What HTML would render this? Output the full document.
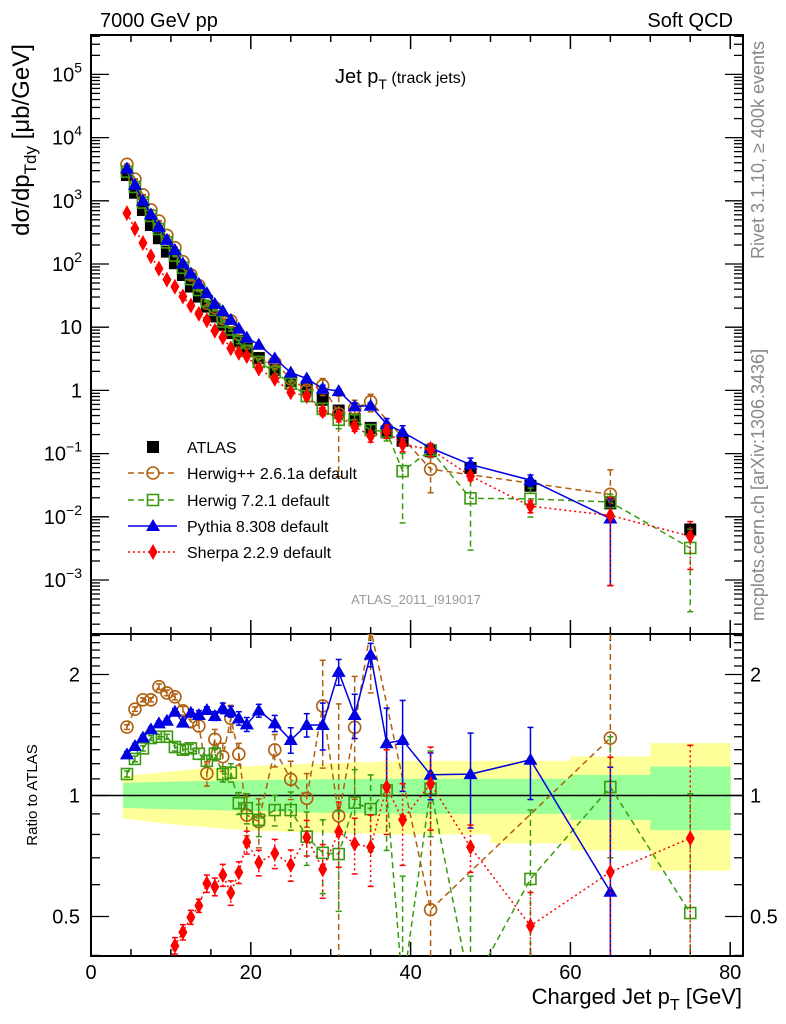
<!DOCTYPE html>
<html><head><meta charset="utf-8"><style>
html,body{margin:0;padding:0;background:#fff;overflow:hidden;width:786px;height:1024px;}
svg{display:block;font-family:"Liberation Sans",Arial,sans-serif;}
</style></head><body>
<svg id="chart" width="786" height="1024" viewBox="0 0 786 1024" xmlns="http://www.w3.org/2000/svg">
<defs>
<clipPath id="clipMain"><rect x="91" y="35" width="652" height="599"/></clipPath>
<clipPath id="clipRatio"><rect x="91" y="634" width="652" height="322"/></clipPath>
</defs>
<g id="bands" clip-path="url(#clipRatio)"></g>
<g id="axes"></g>
<g id="marksMain" clip-path="url(#clipMain)"></g>
<g id="marksRatio" clip-path="url(#clipRatio)"></g>
<g id="labels">
<text x="100" y="27" font-size="20">7000 GeV pp</text>
<text x="733" y="27" font-size="20" text-anchor="end">Soft QCD</text>
<text x="335" y="83" font-size="20">Jet p<tspan font-size="14" dy="6">T</tspan><tspan font-size="16" dy="-6"> (track jets)</tspan></text>
<text x="416" y="604" font-size="13" fill="#999" text-anchor="middle">ATLAS_2011_I919017</text>
<text transform="translate(29,140) rotate(-90)" font-size="24" text-anchor="middle">dσ/dp<tspan font-size="17" dy="7">Tdy</tspan><tspan dy="-7"> [μb/GeV]</tspan></text>
<text transform="translate(37,795) rotate(-90)" font-size="15" text-anchor="middle">Ratio to ATLAS</text>
<text transform="translate(764,150) rotate(-90)" font-size="18" fill="#888" text-anchor="middle">Rivet 3.1.10, ≥ 400k events</text>
<text transform="translate(764,485) rotate(-90)" font-size="18" fill="#888" text-anchor="middle">mcplots.cern.ch [arXiv:1306.3436]</text>
<text x="742" y="1004" font-size="22" text-anchor="end">Charged Jet p<tspan font-size="16" dy="6">T</tspan><tspan dy="-6"> [GeV]</tspan></text>
</g>
<g id="legend"></g>
</svg>
<script>
const xVals=[4.5,5.5,6.5,7.5,8.5,9.5,10.5,11.5,12.5,13.5,14.5,15.5,16.5,17.5,18.5,19.5,21,23,25,27,29,31,33,35,37,39,42.5,47.5,55,65,75];
const binEdges=[4,5,6,7,8,9,10,11,12,13,14,15,16,17,18,19,20,22,24,26,28,30,32,34,36,38,40,45,50,60,70,80];
const atlasVals=[2557,1343,716,415,256,157,103,67,44,30.5,21.2,14.8,10.9,8.07,6.1,4.56,3.25,2.12,1.39,1.03,0.71,0.48,0.353,0.255,0.217,0.160,0.109,0.0594,0.031,0.0163,0.0063];
const bandGreenUp=[1.075,1.077,1.078,1.08,1.08,1.082,1.083,1.084,1.085,1.086,1.087,1.088,1.089,1.09,1.09,1.091,1.092,1.094,1.095,1.096,1.097,1.098,1.099,1.1,1.1,1.1,1.1,1.1,1.1,1.125,1.18];
const bandGreenLo=[0.93,0.93,0.928,0.927,0.926,0.925,0.924,0.923,0.922,0.921,0.92,0.919,0.918,0.917,0.916,0.915,0.914,0.912,0.91,0.908,0.906,0.905,0.904,0.903,0.902,0.9,0.9,0.9,0.9,0.87,0.82];
const bandYellowUp=[1.12,1.125,1.13,1.135,1.14,1.145,1.15,1.155,1.16,1.165,1.17,1.172,1.175,1.178,1.18,1.183,1.186,1.19,1.195,1.2,1.2,1.205,1.21,1.21,1.215,1.22,1.22,1.22,1.22,1.25,1.35];
const bandYellowLo=[0.875,0.87,0.865,0.86,0.855,0.85,0.847,0.843,0.84,0.837,0.834,0.83,0.827,0.824,0.822,0.82,0.817,0.815,0.812,0.81,0.808,0.806,0.805,0.804,0.802,0.8,0.8,0.8,0.76,0.73,0.65];
const herwigppRatio=[1.48,1.64,1.73,1.73,1.865,1.80,1.76,1.625,1.526,1.49,1.135,1.38,1.249,1.556,1.268,0.894,0.861,1.298,1.097,0.984,1.67,0.89,1.478,2.6,null,null,0.52,null,null,1.39,null];
const herwigppErr=[0.02,0.02,0.02,0.02,0.03,0.03,0.03,0.04,0.05,0.05,0.08,0.08,0.1,0.12,0.08,0.1,0.12,0.12,0.12,0.15,0.5,0.8,0.5,0.8,0,0,0.3,0,0,2,0];
const herwig7Ratio=[1.131,1.233,1.31,1.39,1.40,1.40,1.32,1.30,1.31,1.27,1.22,1.27,1.13,1.14,0.957,0.93,0.87,0.92,0.92,0.79,0.72,0.715,0.96,0.925,1.03,0.33,1.04,0.33,0.62,1.05,0.51];
const herwig7Err=[0.02,0.02,0.02,0.02,0.02,0.02,0.03,0.03,0.03,0.04,0.04,0.05,0.05,0.06,0.06,0.08,0.08,0.08,0.1,0.12,0.15,0.2,0.2,0.2,0.3,0.3,0.25,0.3,0.3,0.35,0.5];
const pythiaRatio=[1.266,1.328,1.393,1.461,1.512,1.535,1.616,1.518,1.607,1.586,1.632,1.577,1.648,1.616,1.556,1.503,1.626,1.512,1.374,1.498,1.498,2.03,1.586,2.24,1.349,1.374,1.126,1.13,1.227,0.576,null];
const pythiaErr=[0.02,0.02,0.02,0.02,0.02,0.02,0.03,0.03,0.03,0.04,0.03,0.04,0.05,0.05,0.06,0.06,0.06,0.07,0.1,0.1,0.2,0.15,0.2,0.15,0.3,0.35,0.15,0.3,0.25,0.6,0];
const sherpaRatio=[0.25,0.27,0.30,0.32,0.33,0.36,0.423,0.457,0.498,0.532,0.604,0.593,0.634,0.573,0.644,0.765,0.681,0.718,0.672,0.787,0.655,0.813,0.758,0.744,1.05,0.87,1.07,0.744,0.474,0.645,0.783];
const sherpaErr=[0.01,0.01,0.01,0.01,0.01,0.01,0.02,0.02,0.02,0.02,0.03,0.03,0.04,0.04,0.04,0.05,0.05,0.06,0.06,0.08,0.1,0.15,0.12,0.15,0.25,0.2,0.25,0.1,0.1,0.6,0.55];
const mainTicks=[-3,-2,-1,0,1,2,3,4,5];
const xTicks=[0,20,40,60,80];
const ratioTicks=[0.5,1,2];

const NS="http://www.w3.org/2000/svg";
const X0=91,X1=743,XS=7.99;
function sx(v){return X0+v*XS;}
const MT=35,MB=634,Y1=390.4,DEC=63.2;
function sy(v){return Y1-Math.log10(v)*DEC;}
const RT=634,RB=956,R1=795.5,RS=121;
function sr(r){return R1-Math.log2(r)*RS;}
function clampM(y){return Math.min(Math.max(y,MT-10),MB+10);}
function clampR(y){return Math.min(Math.max(y,RT-10),RB+10);}
function el(tag,attrs,parent){const e=document.createElementNS(NS,tag);for(const k in attrs)e.setAttribute(k,attrs[k]);parent.appendChild(e);return e;}
const axes=document.getElementById('axes'),bands=document.getElementById('bands');
const gM=document.getElementById('marksMain'),gR=document.getElementById('marksRatio'),leg=document.getElementById('legend');

for(let i=0;i<xVals.length;i++){
 const a=sx(binEdges[i]),b=sx(binEdges[i+1]);
 const yb=el('rect',{x:a,y:sr(bandYellowUp[i]),width:b-a+0.5,height:sr(bandYellowLo[i])-sr(bandYellowUp[i]),fill:'#ffff99'},bands);
 
 
 const gb=el('rect',{x:a,y:sr(bandGreenUp[i]),width:b-a+0.5,height:sr(bandGreenLo[i])-sr(bandGreenUp[i]),fill:'#99ff99'},bands);
 
 
}
const f1=el('rect',{x:X0,y:MT,width:X1-X0,height:MB-MT,fill:'none',stroke:'#000','stroke-width':2},axes);


const f2=el('rect',{x:X0,y:RT,width:X1-X0,height:RB-RT,fill:'none',stroke:'#000','stroke-width':2},axes);


const one=el('line',{x1:X0,x2:X1,y1:sr(1),y2:sr(1),stroke:'#000','stroke-width':1.5},axes);


for(let v=0;v<=81;v+=5){
 const big=v%20===0,len=big?14:7;
 for(const [yb,yt] of [[MB,MT],[RB,RT]]){
  el('line',{x1:sx(v),x2:sx(v),y1:yb,y2:yb-len,stroke:'#000','stroke-width':1.5},axes);
  el('line',{x1:sx(v),x2:sx(v),y1:yt,y2:yt+len,stroke:'#000','stroke-width':1.5},axes);
 }
}
xTicks.forEach(v=>{const t=el('text',{x:sx(v),y:979,'font-size':20,'text-anchor':'middle'},axes);t.textContent=v;
 
 });
for(let d=-4;d<=5;d++){
 for(let m=1;m<10;m++){
  const y=sy(m*Math.pow(10,d));if(y<MT||y>MB)continue;
  const len=m===1?18:9;
  el('line',{x1:X0,x2:X0+len,y1:y,y2:y,stroke:'#000','stroke-width':1.3},axes);
  el('line',{x1:X1,x2:X1-len,y1:y,y2:y,stroke:'#000','stroke-width':1.3},axes);
 }
}
mainTicks.forEach(d=>{
 const y=sy(Math.pow(10,d))+7;
 const t=el('text',{x:82,y:y,'font-size':20,'text-anchor':'end'},axes);
 
 
 if(d===0)t.textContent='1';else if(d===1)t.textContent='10';
 else{t.textContent='10';const s=el('tspan',{'font-size':14,dy:-9},t);s.textContent=String(d).replace('-','−');}
});
const rMinor=[0.4,0.5,0.6,0.7,0.8,0.9,1,1.1,1.2,1.3,1.4,1.5,1.6,1.7,1.8,1.9,2,2.1,2.2,2.3,2.4,2.5];
rMinor.forEach(r=>{const y=sr(r);if(y<RT||y>RB)return;const len=(r===0.5||r===1||r===2)?18:9;
 el('line',{x1:X0,x2:X0+len,y1:y,y2:y,stroke:'#000','stroke-width':1.3},axes);
 el('line',{x1:X1,x2:X1-len,y1:y,y2:y,stroke:'#000','stroke-width':1.3},axes);});
ratioTicks.forEach(r=>{
 const t=el('text',{x:80,y:sr(r)+7,'font-size':20,'text-anchor':'end'},axes);t.textContent=r;
 
 
 const t2=el('text',{x:750,y:sr(r)+7,'font-size':20},axes);t2.textContent=r;
 
 
});

function marker(g,type,x,y,color){
 let m;
 if(type==='sq')m=el('rect',{x:x-6,y:y-6,width:12,height:12,fill:'#000'},g);
 else if(type==='circ')m=el('circle',{cx:x,cy:y,r:6,fill:'none',stroke:color,'stroke-width':1.6},g);
 else if(type==='osq')m=el('rect',{x:x-5.5,y:y-5.5,width:11,height:11,fill:'none',stroke:color,'stroke-width':1.6},g);
 else if(type==='tri')m=el('polygon',{points:`${x},${y-7} ${x-7},${y+5} ${x+7},${y+5}`,fill:color},g);
 else m=el('polygon',{points:`${x},${y-8} ${x-4.5},${y} ${x},${y+8} ${x+4.5},${y}`,fill:color},g);
 return m;
}
const series=[
 {name:'herwigpp',ratio:herwigppRatio,err:herwigppErr,color:'#b05f10',type:'circ',dash:'6,4'},
 {name:'herwig7',ratio:herwig7Ratio,err:herwig7Err,color:'#3a9a10',type:'osq',dash:'6,4'},
 {name:'pythia',ratio:pythiaRatio,err:pythiaErr,color:'#0000e0',type:'tri',dash:null},
 {name:'sherpa',ratio:sherpaRatio,err:sherpaErr,color:'#ff0000',type:'dia',dash:'2,3'}
];
atlasVals.forEach((v,i)=>{const m=marker(gM,'sq',sx(xVals[i]),sy(v),'#000');
 
 });
series.forEach(s=>{
 const ptsM=[],ptsR=[];
 s.ratio.forEach((r,i)=>{if(r==null)return;ptsM.push([sx(xVals[i]),sy(r*atlasVals[i])]);ptsR.push([sx(xVals[i]),sr(r)]);});
 for(const [g,pts] of [[gM,ptsM],[gR,ptsR]]){
  const a={points:pts.map(p=>p.join(',')).join(' '),fill:'none',stroke:s.color,'stroke-width':1.5};
  if(s.dash)a['stroke-dasharray']=s.dash;
  const pl=el('polyline',a,g);
  
  
 }
 s.ratio.forEach((r,i)=>{
  if(r==null)return;
  const x=sx(xVals[i]),e=s.err[i];
  const lo=Math.max(r-e,0.05);
  for(const [g,f] of [[gM,v=>clampM(sy(v*atlasVals[i]))],[gR,v=>clampR(sr(v))]]){
   if(e>0){const a={x1:x,x2:x,y1:f(r+e),y2:f(lo),stroke:s.color,'stroke-width':1.5};if(s.dash)a['stroke-dasharray']=s.dash;
    const eb=el('line',a,g);
    
    
    el('line',{x1:x-3,x2:x+3,y1:f(r+e),y2:f(r+e),stroke:s.color,'stroke-width':1.5},g);
    el('line',{x1:x-3,x2:x+3,y1:f(lo),y2:f(lo),stroke:s.color,'stroke-width':1.5},g);}
   const m=marker(g,s.type,x,f(r),s.color);
   
   
  }
 });
});
const legNames=['ATLAS','Herwig++ 2.6.1a default','Herwig 7.2.1 default','Pythia 8.308 default','Sherpa 2.2.9 default'];
const legY=[447,473,500,526,552];
legNames.forEach((n,i)=>{
 const y=legY[i];
 if(i===0){const m=marker(leg,'sq',153,y,'#000');
  
  }
 else{const s=series[i-1];const a={x1:128,x2:177,y1:y,y2:y,stroke:s.color,'stroke-width':1.5};if(s.dash)a['stroke-dasharray']=s.dash;
  const ln=el('line',a,leg);
  
  
  marker(leg,s.type,153,y,s.color);}
 const t=el('text',{x:187,y:y+6,'font-size':16},leg);t.textContent=n;
 
 
});
</script>
</body></html>
